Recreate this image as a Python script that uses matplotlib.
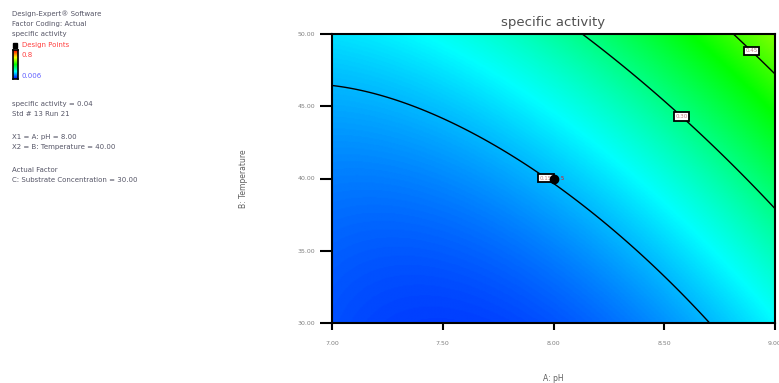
import numpy as np
import matplotlib
matplotlib.use("Agg")
import matplotlib.pyplot as plt
from matplotlib.colors import LinearSegmentedColormap, Normalize

# ---- data ----
# traced contour points (pH, Temperature) for each contour level
levels = [0.15, 0.30, 0.45]
c1_pH = [7.00, 7.49, 8.00, 8.21, 8.42, 8.71]
c1_T = [46.4, 44.2, 40.1, 36.8, 34.4, 30.0]
c2_pH = [8.14, 8.30, 8.585, 8.73, 9.00]
c2_T = [50.0, 47.7, 44.4, 42.0, 37.9]
c3_pH = [8.81, 8.90, 9.00]
c3_T = [50.0, 48.7, 47.3]
label_pH = [7.97, 8.585, 8.91]
label_T = [40.1, 44.4, 49.1]
design_pH = [8.00]
design_T = [40.00]
design_count = ["5"]
x_ticks = [7.00, 7.50, 8.00, 8.50, 9.00]
y_ticks = [30.00, 35.00, 40.00, 45.00, 50.00]
legend_max = 0.8
legend_min = 0.006

# ---- fit a quadratic response surface to the traced contours ----
pts_pH = np.array(c1_pH + c2_pH + c3_pH)
pts_T = np.array(c1_T + c2_T + c3_T)
vals = np.array([levels[0]] * len(c1_pH) + [levels[1]] * len(c2_pH) + [levels[2]] * len(c3_pH))
A = pts_pH - 8.0
B = (pts_T - 40.0) / 10.0
M = np.column_stack([np.ones_like(A), A, B, A * B, A ** 2, B ** 2])
coef, *_ = np.linalg.lstsq(M, vals, rcond=None)

gx = np.linspace(7.0, 9.0, 300)
gy = np.linspace(30.0, 50.0, 300)
GX, GY = np.meshgrid(gx, gy)
GA = GX - 8.0
GB = (GY - 40.0) / 10.0
Z = (coef[0] + coef[1] * GA + coef[2] * GB + coef[3] * GA * GB
     + coef[4] * GA ** 2 + coef[5] * GB ** 2)

cmap = LinearSegmentedColormap.from_list(
    "de", [(0, "#0000ff"), (0.25, "#00ffff"), (0.5, "#00ff00"),
           (0.75, "#ffff00"), (1.0, "#ff0000")])
norm = Normalize(vmin=legend_min, vmax=legend_max)

fig = plt.figure(figsize=(7.79, 3.83), dpi=100)
ax = fig.add_axes([332 / 779, 1 - 323 / 383, 443 / 779, 289 / 383])
ax.imshow(Z, extent=[7.0, 9.0, 30.0, 50.0], origin="lower", cmap=cmap,
          norm=norm, aspect="auto", interpolation="bilinear")
cs = ax.contour(GX, GY, Z, levels=levels, colors="black", linewidths=1.0)
texts = ax.clabel(cs, fmt="%.2f", fontsize=4, inline=False,
                  manual=list(zip(label_pH, label_T)), colors="#c08080")
for t in texts:
    t.set_rotation(0)
    t.set_bbox(dict(boxstyle="square,pad=0.3", fc="white", ec="black", lw=1.3))

ax.plot(design_pH, design_T, "o", color="black", ms=6, zorder=5)
for px, py, n in zip(design_pH, design_T, design_count):
    ax.text(px + 0.03, py, n, color="red", fontsize=3.5, va="center", zorder=6)

ax.set_xlim(7.0, 9.0)
ax.set_ylim(30.0, 50.0)
ax.set_xticks(x_ticks)
ax.set_yticks(y_ticks)
ax.set_xticklabels([f"{v:.2f}" for v in x_ticks])
ax.set_yticklabels([f"{v:.2f}" for v in y_ticks])
ax.tick_params(axis="x", direction="out", length=5, width=1.5, labelsize=4.5,
               labelcolor="#808080", pad=8)
ax.tick_params(axis="y", direction="out", length=9, width=1.5, labelsize=4.5,
               labelcolor="#808080", pad=3)
for s in ax.spines.values():
    s.set_linewidth(1.5)
ax.set_title("specific activity", fontsize=9.5, color="#505050", pad=6)
ax.set_xlabel("A: pH", fontsize=5.5, color="#606060", labelpad=20)
ax.set_ylabel("B: Temperature", fontsize=5.5, color="#606060", labelpad=36)

# ---- left information panel ----
tc = "#555566"
fs = 5
def ftxt(xp, yp, s, color=tc):
    fig.text(xp / 779, 1 - yp / 383, s, fontsize=fs, color=color, va="center", ha="left")

ftxt(12, 14, "Design-Expert\u00ae Software")
ftxt(12, 24, "Factor Coding: Actual")
ftxt(12, 34, "specific activity")
fig.patches.append(plt.Rectangle((13 / 779, 1 - 47.5 / 383), 4 / 779, 4 / 383,
                                 transform=fig.transFigure, fc="black", ec="black"))
ftxt(22, 45, "Design Points", color="#ff4040")
cax = fig.add_axes([13 / 779, 1 - 79 / 383, 5 / 779, 29 / 383])
grad = np.linspace(0, 1, 100).reshape(-1, 1)
cax.imshow(grad, cmap=cmap, aspect="auto", origin="lower")
cax.set_xticks([])
cax.set_yticks([])
for s in cax.spines.values():
    s.set_linewidth(1.2)
ftxt(22, 55, f"{legend_max}", color="#ff4040")
ftxt(22, 76, f"{legend_min}", color="#6060ff")
ftxt(12, 104, "specific activity = 0.04")
ftxt(12, 114, "Std # 13 Run 21")
ftxt(12, 137, "X1 = A: pH = 8.00")
ftxt(12, 147, "X2 = B: Temperature = 40.00")
ftxt(12, 170, "Actual Factor")
ftxt(12, 180, "C: Substrate Concentration = 30.00")

fig.savefig("out.png", dpi=100)
